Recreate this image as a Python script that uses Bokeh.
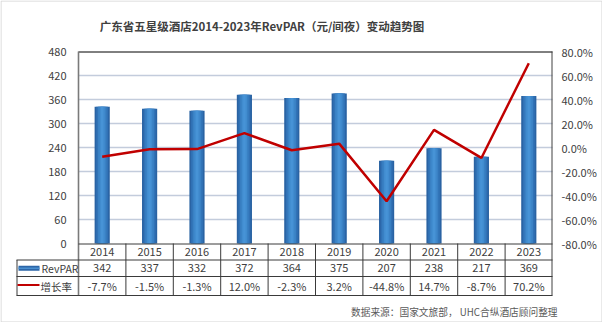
from bokeh.plotting import figure
from bokeh.models import Range1d
from bokeh.core.properties import value
from bokeh.embed import file_html
from bokeh.resources import INLINE

# ---------------- data ----------------
years = ["2014", "2015", "2016", "2017", "2018", "2019", "2020", "2021", "2022", "2023"]
revpar = [342, 337, 332, 372, 364, 375, 207, 238, 217, 369]
growth_pct = [-7.7, -1.5, -1.3, 12.0, -2.3, 3.2, -44.8, 14.7, -8.7, 70.2]
left_ticks = [0, 60, 120, 180, 240, 300, 360, 420, 480]
right_ticks = [-80, -60, -40, -20, 0, 20, 40, 60, 80]
row_names = ["RevPAR", "增长率"]
title_text = "广东省五星级酒店2014-2023年RevPAR（元/间夜）变动趋势图"
source_text = "数据来源：国家文旅部， UHC合纵酒店顾问整理"

n = len(years)
xs = list(range(n))
revpar_labels = [str(v) for v in revpar]
growth_labels = [f"{g:.1f}%" for g in growth_pct]
right_labels = [f"{t:.1f}%" for t in right_ticks]
left_labels = [str(t) for t in left_ticks]

FONT = value("Noto Sans CJK SC")
TXT = "#404040"
RED = "#c00000"
TLINE = "#3a3a3a"

# ---------------- layout (pixels) ----------------
W, H = 602, 322
PL, PR, PT, PB = 78, 552, 51, 243          # plot area
ROW1, ROW2, ROW3 = 259.5, 276, 295         # table row bottoms
LEG_L = 16

cw = (PR - PL) / n
ky = (PB - PT) / (left_ticks[-1] - left_ticks[0])
kp = (PB - PT) / (right_ticks[-1] - right_ticks[0])

p = figure(width=W, height=H, output_backend="svg", toolbar_location=None,
           x_axis_location=None, y_axis_location=None, min_border=0,
           x_range=Range1d(-0.5 - PL / cw, -0.5 + (W - PL) / cw),
           y_range=Range1d(left_ticks[0] - (H - PB) / ky, left_ticks[-1] + PT / ky))
p.extra_y_ranges = {
    "pct": Range1d(right_ticks[0] - (H - PB) / kp, right_ticks[-1] + PT / kp),
    "px": Range1d(H, 0),
}
p.extra_x_ranges = {"px": Range1d(0, W)}
p.outline_line_color = None
p.grid.visible = False
p.background_fill_color = "white"
p.border_fill_color = "white"

PX = dict(x_range_name="px", y_range_name="px")

# horizontal grid lines
p.segment(x0=-0.5, x1=n - 0.5, y0=left_ticks[1:-1], y1=left_ticks[1:-1],
          line_color="#c3ccdc", line_width=1.5)

# bars (horizontal gradient imitation)
for w, c in [(0.32, "#2a63a3"), (0.25, "#3172b6"), (0.18, "#3a81c4"),
             (0.11, "#418ccf"), (0.05, "#4793d6")]:
    p.vbar(x=xs, top=revpar, width=w, color=c, line_color=None)

# growth line
p.line(xs, growth_pct, y_range_name="pct", line_color=RED, line_width=2.5)

# frame lines
p.segment(x0=[PL], x1=[PR], y0=[PT + 0.5], y1=[PT + 0.5], line_color="#000000", line_width=1, **PX)
p.segment(x0=[PL], x1=[PL], y0=[PT], y1=[ROW3], line_color="#7a7a7a", line_width=1.6, **PX)
p.segment(x0=[PR - 0.5], x1=[PR - 0.5], y0=[PT], y1=[ROW3], line_color="#404040", line_width=1, **PX)

# axis labels
p.text(x=[PL - 12] * len(left_ticks), y=left_ticks, text=left_labels, x_range_name="px",
       text_align="right", text_baseline="middle", text_font=FONT,
       text_font_size="11px", text_color=TXT)
p.text(x=[PR + 9] * len(right_ticks), y=right_ticks, text=right_labels, x_range_name="px",
       y_range_name="pct", text_align="left", text_baseline="middle", text_font=FONT,
       text_font_size="11px", text_color=TXT)

# ---------------- table ----------------
p.segment(x0=[PL], x1=[PR], y0=[PB + 0.5], y1=[PB + 0.5], line_color=TLINE, line_width=1, **PX)
p.segment(x0=[LEG_L] * 3, x1=[PR] * 3, y0=[ROW1, ROW2, ROW3], y1=[ROW1, ROW2, ROW3],
          line_color=TLINE, line_width=1, **PX)
p.segment(x0=[LEG_L + 0.5], x1=[LEG_L + 0.5], y0=[ROW1], y1=[ROW3], line_color=TLINE,
          line_width=1, **PX)
bounds = [i - 0.5 for i in range(1, n)]
p.segment(x0=bounds, x1=bounds, y0=[PB] * len(bounds), y1=[ROW3] * len(bounds),
          y_range_name="px", line_color=TLINE, line_width=1)

for txt, yc in ((years, (PB + ROW1) / 2), (revpar_labels, (ROW1 + ROW2) / 2),
                (growth_labels, (ROW2 + ROW3) / 2)):
    p.text(x=xs, y=[yc] * n, text=txt, y_range_name="px", text_align="center",
           text_baseline="middle", text_font=FONT, text_font_size="11px", text_color=TXT)

# legend cells
yc2 = (ROW1 + ROW2) / 2
yc3 = (ROW2 + ROW3) / 2
p.quad(left=[18], right=[39], top=[yc2 - 2.5], bottom=[yc2 + 2.5], fill_color="#2c66a8",
       line_color=None, **PX)
p.quad(left=[18], right=[39], top=[yc2 - 0.8], bottom=[yc2 + 0.8], fill_color="#4a8fd0",
       line_color=None, **PX)
p.segment(x0=[17], x1=[39], y0=[yc3 - 1], y1=[yc3 - 1], line_color=RED, line_width=2, **PX)
p.text(x=[41, 40], y=[yc2, yc3], text=row_names, text_align="left", text_baseline="middle",
       text_font=FONT, text_font_size="10.5px", text_color=TXT, **PX)

# title and source
p.text(x=[261.5], y=[25], text=[title_text], text_align="center", text_baseline="middle",
       text_font=FONT, text_font_size="11.5px", text_font_style="bold", text_color=TXT, **PX)
p.text(x=[557], y=[311], text=[source_text], text_align="right", text_baseline="middle",
       text_font=FONT, text_font_size="9.7px", text_color="#595959", **PX)

# outer border
p.quad(left=[0.5], right=[W - 0.5], top=[0.5], bottom=[H - 0.5], fill_color=None,
       line_color="#d4d4d4", line_width=1, **PX)

open("out.html", "w").write(file_html(p, INLINE))
